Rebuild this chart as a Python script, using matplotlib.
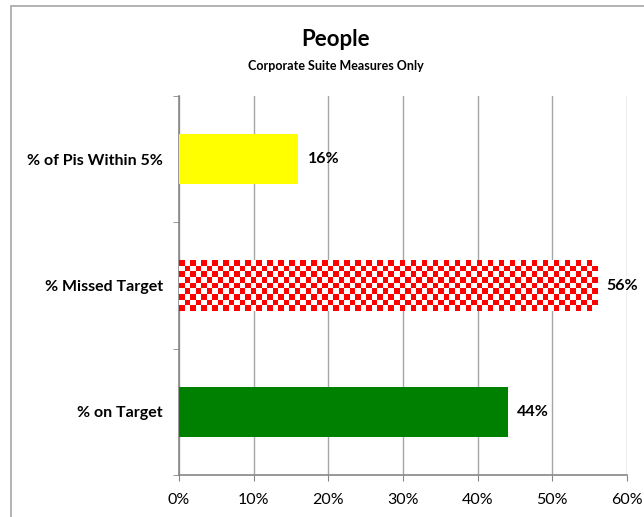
import numpy as np
import matplotlib.pyplot as plt
from matplotlib.patches import Rectangle
from matplotlib.colors import ListedColormap
from matplotlib.ticker import FuncFormatter, FixedLocator

categories = ['% on Target', '% Missed Target', '% of Pis Within 5%']
values = [44, 56, 16]
colors = ['#008000', None, '#FFFF00']
xticks = [0, 10, 20, 30, 40, 50, 60]

plt.rcParams['font.family'] = ['Lato', 'DejaVu Sans']

fig = plt.figure(figsize=(6.44, 5.17), dpi=100)
ax = fig.add_axes([179 / 644, 1 - 475 / 517, (627 - 179) / 644, (475 - 96) / 517])

# chart border (only left and top visible, the rest runs off the image)
fig.patches.append(Rectangle((11 / 644, -0.1), 1.2, 1 - 6 / 517 + 0.1,
                             transform=fig.transFigure, fill=False,
                             edgecolor='#A6A6A6', linewidth=1.2))

ypos = np.arange(len(categories))
bars = ax.barh(ypos, values, height=0.4, color=[c if c else 'white' for c in colors],
               zorder=3)

# checkerboard fill for the "missed" bar
b = bars[1]
n_cols = int(round(values[1] * 448 / 60 / 5.5))
n_rows = int(round(51 / 5.5))
checker = (np.indices((n_rows, n_cols)).sum(axis=0) % 2).astype(float)
im = ax.imshow(checker, cmap=ListedColormap(['#FF0000', 'white']), aspect='auto',
               extent=[0, values[1], b.get_y(), b.get_y() + b.get_height()],
               interpolation='nearest', zorder=4)
im.set_clip_path(b)

for y, v in zip(ypos, values):
    ax.text(v + 1.3, y, f'{v}%', va='center', ha='left', fontsize=11.5,
            fontweight='bold', zorder=5)

ax.set_xlim(0, 60)
ax.set_ylim(-0.5, 2.5)
ax.set_xticks(xticks)
ax.xaxis.set_major_formatter(FuncFormatter(lambda x, p: f'{int(x)}%'))
ax.set_yticks(ypos)
ax.set_yticklabels(categories, fontweight='bold', fontsize=11.5)
ax.yaxis.set_minor_locator(FixedLocator([-0.5, 0.5, 1.5, 2.5]))
ax.tick_params(axis='y', which='major', length=0, pad=11.5)
ax.tick_params(axis='y', which='minor', length=4, color='#868686', direction='out')
ax.tick_params(axis='x', length=4, color='#868686', labelsize=11.5, pad=9)

ax.grid(axis='x', color='#A6A6A6', linewidth=1, zorder=0)
ax.set_axisbelow(True)
for s in ['top', 'right']:
    ax.spines[s].set_visible(False)
for s in ['left', 'bottom']:
    ax.spines[s].set_color('#868686')
    ax.spines[s].set_linewidth(1.2)

fig.text(0.521, 1 - 39 / 517, 'People', ha='center', va='center',
         fontsize=16, fontweight='bold')
fig.text(0.521, 1 - 66 / 517, 'Corporate Suite Measures Only', ha='center',
         va='center', fontsize=9, fontweight='bold')

fig.savefig('out.png', dpi=100)
